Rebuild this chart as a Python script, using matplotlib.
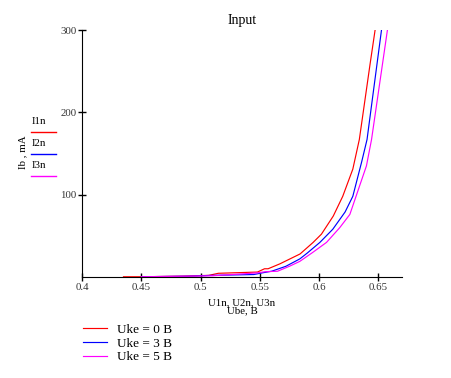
import matplotlib.pyplot as plt
from matplotlib.lines import Line2D

# Входная характеристика: Ib(Ube) при разных Uke
U1n = [0.435, 0.45, 0.485, 0.507, 0.515, 0.548, 0.554, 0.557, 0.567, 0.584,
       0.595, 0.602, 0.612, 0.620, 0.6285, 0.634, 0.643, 0.6473, 0.65]
I1n = [0.3, 0.3, 1.0, 2.0, 4.5, 6, 10, 10, 16, 28,
       42, 52, 74, 98, 131, 167, 258, 300, 330]

U2n = [0.45, 0.49, 0.51, 0.545, 0.552, 0.56, 0.572, 0.5838, 0.590, 0.6007,
       0.6116, 0.622, 0.6285, 0.636, 0.6405, 0.6527, 0.655]
I2n = [0.3, 1, 2, 3, 5, 7, 13, 22, 29, 42,
       58, 79, 98, 140, 167, 300, 330]

U3n = [0.45, 0.49, 0.51, 0.548, 0.555, 0.565, 0.575, 0.5838, 0.5948, 0.6063,
       0.6175, 0.626, 0.640, 0.6443, 0.6577, 0.66]
I3n = [0.3, 1, 1.5, 5, 6.5, 7, 13, 19, 30, 42,
       60, 76, 135, 167, 300, 330]

names = ["I1n", "I2n", "I3n"]
labels = ["Uke = 0 B", "Uke = 3 B", "Uke = 5 B"]
colors = ["#ff0000", "#0000ff", "#ff00ff"]
xticks = [0.4, 0.45, 0.5, 0.55, 0.6, 0.65]
yticks = [100, 200, 300]

plt.rcParams['font.family'] = ['Liberation Serif', 'DejaVu Serif']

fig = plt.figure(figsize=(4.52, 3.78), dpi=100)
ax = fig.add_axes([82/452, 1 - 277/378, 320/452, 247/378])

lines = []
for (u, i), c in zip([(U1n, I1n), (U2n, I2n), (U3n, I3n)], colors):
    l, = ax.plot(u, i, color=c, lw=0.85)
    lines.append(l)

ax.set_xlim(0.4, 0.67)
ax.set_ylim(0, 300)
ax.spines['top'].set_visible(False)
ax.spines['right'].set_visible(False)
ax.set_xticks(xticks)
ax.set_xticklabels([str(x) for x in xticks])
ax.set_yticks(yticks)
ax.set_yticklabels([str(y) for y in yticks])
ax.tick_params(direction='inout', length=6, width=1, labelsize=7.8,
               labelcolor='#333333', pad=1)
ax.set_title("Input", fontsize=10, pad=4)

ax.set_xlabel("U1n, U2n, U3n\nUbe, B", fontsize=7.8, linespacing=0.8,
              labelpad=5)

# подписи кривых слева от оси
fig.text(23/452, 1 - 152/378, "Ib , mA", rotation=90, fontsize=7.8,
         ha='center', va='center')
for k, (n, c) in enumerate(zip(names, colors)):
    yt = 121 + 22 * k
    yl = 132 + 22 * k
    fig.text(32/452, 1 - yt/378, n, fontsize=7.8, va='center', ha='left')
    fig.add_artist(Line2D([31/452, 56/452], [1 - yl/378, 1 - yl/378],
                          color=c, lw=1.0))

fig.legend(lines, labels, loc='upper left', bbox_to_anchor=(76/452, 1 - 317/378),
           frameon=False, fontsize=9.5, handlelength=1.85, handletextpad=0.75,
           labelspacing=0.12, borderpad=0)

fig.savefig("out.png", dpi=100)
